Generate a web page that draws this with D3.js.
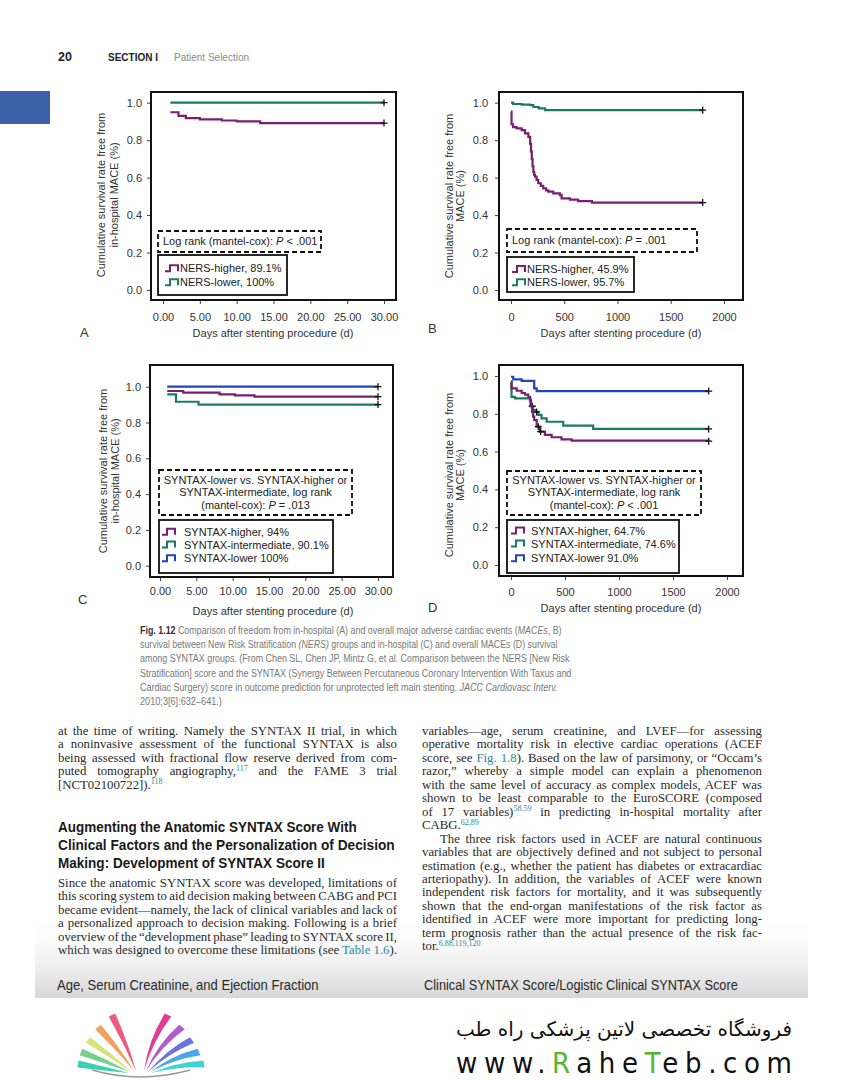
<!DOCTYPE html>
<html>
<head>
<meta charset="utf-8">
<script src="https://cdn.jsdelivr.net/npm/d3@7"></script>
<style>
  body { margin: 0; background: #fff; }
  svg { display: block; }
</style>
</head>
<body>
<script>
// page size
var W = 844, H = 1080;
var sans = '"Liberation Sans", Arial, Helvetica, sans-serif';
var serif = '"Liberation Serif", "Times New Roman", serif';

var purple = '#7a1f6f', green = '#1b7b60', blue = '#2343b8', teal = '#2b8a9c';

// ---- values ----
// A: in-hospital MACE, NERS groups (days)
var aHigherDays = [1, 2.1, 3.1, 5, 8, 10, 13.2, 30];
var aHigherSurv = [0.949, 0.930, 0.918, 0.911, 0.905, 0.900, 0.891, 0.891];
var aLowerDays = [1, 30];
var aLowerSurv = [1.0, 1.0];

// B: overall MACE, NERS groups
var bHigherDays = [0, 5, 20, 53, 100, 131, 163, 180, 188, 195, 202, 210, 218, 225, 240, 256, 280, 303, 330, 350, 397, 459, 475, 553, 631, 760, 1800];
var bHigherSurv = [0.952, 0.885, 0.870, 0.863, 0.854, 0.836, 0.818, 0.780, 0.740, 0.700, 0.660, 0.630, 0.615, 0.605, 0.588, 0.570, 0.556, 0.543, 0.532, 0.525, 0.516, 0.507, 0.489, 0.482, 0.475, 0.467, 0.467];
var bLowerDays = [0, 20, 100, 180, 210, 260, 320, 1800];
var bLowerSurv = [1.0, 0.993, 0.990, 0.987, 0.977, 0.970, 0.960, 0.960];

// C: in-hospital MACE, SYNTAX groups
var cHigherDays = [1, 3.2, 8.2, 10.3, 13, 30];
var cHigherSurv = [0.976, 0.967, 0.957, 0.952, 0.944, 0.944];
var cInterDays = [1, 2.2, 5.3, 30];
var cInterSurv = [0.957, 0.916, 0.900, 0.900];
var cLowerDays = [1, 30];
var cLowerSurv = [1.0, 1.0];

// D: overall MACE, SYNTAX groups
var dHigherDays = [0, 5, 53, 99, 129, 160, 176, 185, 195, 205, 215, 238, 268, 314, 376, 468, 561, 1830];
var dHigherSurv = [0.970, 0.935, 0.922, 0.910, 0.901, 0.889, 0.871, 0.840, 0.810, 0.785, 0.767, 0.732, 0.706, 0.688, 0.676, 0.665, 0.658, 0.655];
var dInterDays = [0, 5, 37, 180, 205, 222, 253, 283, 330, 484, 761, 1830];
var dInterSurv = [0.970, 0.890, 0.882, 0.840, 0.820, 0.810, 0.794, 0.776, 0.758, 0.737, 0.720, 0.720];
var dLowerDays = [0, 21, 99, 215, 238, 1830];
var dLowerSurv = [0.996, 0.982, 0.974, 0.935, 0.920, 0.920];
var dHigherCensor = [253, 274];
var dInterCensor = [197, 237];

// ticks
var shortDayTicks = [0, 5, 10, 15, 20, 25, 30];
var longDayTicks = [0, 500, 1000, 1500, 2000];
var survTicks = [0, 0.2, 0.4, 0.6, 0.8, 1.0];

// legend / annotation texts
var aLabels = ['NERS-higher, 89.1%', 'NERS-lower, 100%'];
var bLabels = ['NERS-higher, 45.9%', 'NERS-lower, 95.7%'];
var cLabels = ['SYNTAX-higher, 94%', 'SYNTAX-intermediate, 90.1%', 'SYNTAX-lower 100%'];
var dLabels = ['SYNTAX-higher, 64.7%', 'SYNTAX-intermediate, 74.6%', 'SYNTAX-lower 91.0%'];
var aLogRank = [[['Log rank (mantel-cox): ', 0], ['P', 1], [' < .001', 0]]];
var bLogRank = [[['Log rank (mantel-cox): ', 0], ['P', 1], [' = .001', 0]]];
var cLogRank = [[['SYNTAX-lower vs. SYNTAX-higher or', 0]], [['SYNTAX-intermediate, log rank', 0]], [['(mantel-cox): ', 0], ['P', 1], [' = .013', 0]]];
var dLogRank = [[['SYNTAX-lower vs. SYNTAX-higher or', 0]], [['SYNTAX-intermediate, log rank', 0]], [['(mantel-cox): ', 0], ['P', 1], [' < .001', 0]]];
var yTitleInHosp = ['Cumulative survival rate free from', 'in-hospital MACE (%)'];
var yTitleOverall = ['Cumulative survival rate free from', 'MACE (%)'];
var xTitle = 'Days after stenting procedure (d)';

var svg = d3.select('body').append('svg')
  .attr('width', W)
  .attr('height', H)
  .style('font-family', sans);

// squeeze a text horizontally so it spans exactly `width` px
function fitWidth(t, x, y, width) {
  var len = t.node().getComputedTextLength();
  t.attr('x', 0).attr('y', 0)
    .attr('transform', 'translate(' + x + ',' + y + ') scale(' + (width / len) + ',1)');
}

// ---- running head ----
svg.append('rect').attr('x', 0).attr('y', 91).attr('width', 50).attr('height', 33).attr('fill', '#3b62a7');
svg.append('text').attr('x', 58).attr('y', 61).attr('font-size', 12.5).attr('font-weight', 'bold').attr('fill', '#222').text('20');
svg.append('text').attr('x', 108).attr('y', 61).attr('font-size', 10).attr('font-weight', 'bold').attr('fill', '#222').text('SECTION I');
svg.append('text').attr('x', 174).attr('y', 61).attr('font-size', 10).attr('fill', '#8a8a8a').text('Patient Selection');

// ---- panel layout ----
var panels = [
  { letter: 'A', letterPos: [80, 337], frame: [151, 92, 396, 300], xDomain: [0, 30], xRange: [163, 384], yRange: [290, 102.7],
    xTicks: shortDayTicks, xFmt: '.2f', xPad: 9, yPad: 5, yTitle: yTitleInHosp, yTitleX: [101, 114], yTitleY: 195, xTitlePos: [273, 337],
    series: [
      { days: aLowerDays, surv: aLowerSurv, color: green },
      { days: aHigherDays, surv: aHigherSurv, color: purple }
    ],
    logRank: aLogRank, lrBox: [158, 231, 321, 252], lrAnchor: 'start', lrX: 163, lrY: [245],
    legendBox: [158, 255, 287, 295], legendRows: [268.3, 282.3], legendSx: 165, legendTx: 180,
    legend: [{ label: aLabels[0], color: purple }, { label: aLabels[1], color: green }] },

  { letter: 'B', letterPos: [428, 333], frame: [499, 92, 743, 300], xDomain: [0, 2000], xRange: [511, 724], yRange: [290, 102.7],
    xTicks: longDayTicks, xFmt: 'd', xPad: 9, yPad: 7, yTitle: yTitleOverall, yTitleX: [449, 460], yTitleY: 196, xTitlePos: [621, 337],
    series: [
      { days: bLowerDays, surv: bLowerSurv, color: green },
      { days: bHigherDays, surv: bHigherSurv, color: purple }
    ],
    logRank: bLogRank, lrBox: [507, 229, 697, 252], lrAnchor: 'start', lrX: 512, lrY: [244],
    legendBox: [507, 257, 634, 292], legendRows: [269, 282.3], legendSx: 512, legendTx: 527,
    legend: [{ label: bLabels[0], color: purple }, { label: bLabels[1], color: green }] },

  { letter: 'C', letterPos: [78, 604], frame: [150, 365, 393, 577], xDomain: [0, 30], xRange: [160, 378], yRange: [565.7, 386.7],
    xTicks: shortDayTicks, xFmt: '.2f', xPad: 6, yPad: 5, yTitle: yTitleInHosp, yTitleX: [103, 115], yTitleY: 471, xTitlePos: [273, 615],
    series: [
      { days: cLowerDays, surv: cLowerSurv, color: blue },
      { days: cInterDays, surv: cInterSurv, color: green },
      { days: cHigherDays, surv: cHigherSurv, color: purple }
    ],
    logRank: cLogRank, lrBox: [159, 470, 352, 515], lrAnchor: 'middle', lrX: 255.5, lrY: [483.5, 496, 509],
    legendBox: [159, 520, 333, 573], legendRows: [531.7, 544.5, 558.3], legendSx: 162, legendTx: 184,
    legend: [{ label: cLabels[0], color: purple }, { label: cLabels[1], color: green }, { label: cLabels[2], color: blue }] },

  { letter: 'D', letterPos: [428, 612], frame: [499, 365, 743, 576], xDomain: [0, 2000], xRange: [511, 727], yRange: [565, 376],
    xTicks: longDayTicks, xFmt: 'd', xPad: 8, yPad: 7, yTitle: yTitleOverall, yTitleX: [449, 460], yTitleY: 475, xTitlePos: [621, 612],
    series: [
      { days: dLowerDays, surv: dLowerSurv, color: blue },
      { days: dInterDays, surv: dInterSurv, color: green, censor: dInterCensor },
      { days: dHigherDays, surv: dHigherSurv, color: purple, censor: dHigherCensor }
    ],
    logRank: dLogRank, lrBox: [507, 471, 701, 515], lrAnchor: 'middle', lrX: 604, lrY: [483.5, 496, 508.5],
    legendBox: [507, 520, 679, 573], legendRows: [530.5, 543.5, 558.3], legendSx: 511, legendTx: 531,
    legend: [{ label: dLabels[0], color: purple }, { label: dLabels[1], color: green }, { label: dLabels[2], color: blue }] }
];

function styleAxis(sel) {
  sel.attr('font-size', 11).attr('font-family', sans);
  sel.select('.domain').remove();
  sel.selectAll('line').attr('stroke', '#444');
  sel.selectAll('text').attr('fill', '#333');
}

function stepValue(days, surv, t) {
  var i = d3.bisectRight(days, t) - 1;
  return surv[Math.max(0, i)];
}

var plus = 'M-3.5,0H3.5M0,-3.5V3.5';

panels.forEach(function(p) {
  var g = svg.append('g');
  var x = d3.scaleLinear().domain(p.xDomain).range(p.xRange);
  var y = d3.scaleLinear().domain([0, 1]).range(p.yRange);
  var f = p.frame;

  g.append('g')
    .attr('transform', 'translate(0,' + f[3] + ')')
    .call(d3.axisBottom(x).tickValues(p.xTicks).tickFormat(d3.format(p.xFmt)).tickSize(4).tickPadding(p.xPad))
    .call(styleAxis);
  g.append('g')
    .attr('transform', 'translate(' + f[0] + ',0)')
    .call(d3.axisLeft(y).tickValues(survTicks).tickFormat(d3.format('.1f')).tickSize(4).tickPadding(p.yPad))
    .call(styleAxis);

  // plot frame
  g.append('rect')
    .attr('x', f[0]).attr('y', f[1])
    .attr('width', f[2] - f[0]).attr('height', f[3] - f[1])
    .attr('fill', 'none').attr('stroke', '#111').attr('stroke-width', 2);

  // axis titles
  p.yTitle.forEach(function(t, i) {
    g.append('text')
      .attr('transform', 'translate(' + p.yTitleX[i] + ',' + p.yTitleY + ') rotate(-90)')
      .attr('text-anchor', 'middle').attr('dy', '0.35em')
      .attr('font-size', 11).attr('fill', '#333')
      .text(t);
  });
  g.append('text')
    .attr('x', p.xTitlePos[0]).attr('y', p.xTitlePos[1])
    .attr('text-anchor', 'middle').attr('font-size', 11).attr('fill', '#333')
    .text(xTitle);
  g.append('text')
    .attr('x', p.letterPos[0]).attr('y', p.letterPos[1])
    .attr('font-size', 13).attr('fill', '#333')
    .text(p.letter);

  // survival curves
  var line = d3.line()
    .curve(d3.curveStepAfter)
    .x(function(d) { return x(d[0]); })
    .y(function(d) { return y(d[1]); });

  p.series.forEach(function(s) {
    g.append('path')
      .datum(d3.zip(s.days, s.surv))
      .attr('d', line)
      .attr('fill', 'none')
      .attr('stroke', s.color)
      .attr('stroke-width', 2.2);
    var marks = (s.censor || []).concat([s.days[s.days.length - 1]]);
    g.selectAll(null).data(marks).enter().append('path')
      .attr('transform', function(t) { return 'translate(' + x(t) + ',' + y(stepValue(s.days, s.surv, t)) + ')'; })
      .attr('d', plus)
      .attr('stroke', '#111').attr('stroke-width', 1.3).attr('fill', 'none');
  });

  // log-rank box
  var lb = p.lrBox;
  g.append('rect')
    .attr('x', lb[0]).attr('y', lb[1]).attr('width', lb[2] - lb[0]).attr('height', lb[3] - lb[1])
    .attr('fill', '#fff').attr('stroke', '#111').attr('stroke-width', 1.8).attr('stroke-dasharray', '5,3');
  p.logRank.forEach(function(segs, i) {
    var t = g.append('text')
      .attr('x', p.lrX).attr('y', p.lrY[i])
      .attr('text-anchor', p.lrAnchor).attr('font-size', 11).attr('fill', '#222');
    segs.forEach(function(s) {
      t.append('tspan').attr('font-style', s[1] ? 'italic' : null).text(s[0]);
    });
  });

  // legend
  var bb = p.legendBox;
  g.append('rect')
    .attr('x', bb[0]).attr('y', bb[1]).attr('width', bb[2] - bb[0]).attr('height', bb[3] - bb[1])
    .attr('fill', '#fff').attr('stroke', '#111').attr('stroke-width', 1.8);
  p.legend.forEach(function(l, i) {
    var cy = p.legendRows[i], sx = p.legendSx;
    g.append('path')
      .attr('d', 'M' + sx + ',' + (cy + 3) + 'H' + (sx + 5) + 'V' + (cy - 3) + 'H' + (sx + 13) + 'V' + (cy + 3))
      .attr('fill', 'none').attr('stroke', l.color).attr('stroke-width', 2);
    g.append('text')
      .attr('x', p.legendTx).attr('y', cy + 4)
      .attr('font-size', 11).attr('fill', '#222')
      .text(l.label);
  });
});

// ---- figure caption ----
var caption = [
  [{ t: 'Fig. 1.12', b: 1 }, ' Comparison of freedom from in-hospital (A) and overall major adverse cardiac events (', { t: 'MACEs', i: 1 }, ', B)'],
  ['survival between New Risk Stratification ', { t: '(NERS)', i: 1 }, ' groups and in-hospital (C) and overall MACEs (D) survival'],
  ['among SYNTAX groups. (From Chen SL, Chen JP, Mintz G, et al. Comparison between the NERS [New Risk'],
  ['Stratification] score and the SYNTAX (Synergy Between Percutaneous Coronary Intervention With Taxus and'],
  ['Cardiac Surgery) score in outcome prediction for unprotected left main stenting. ', { t: 'JACC Cardiovasc Interv.', i: 1 }],
  ['2010;3[6]:632\u2013641.)']
];
var captionEnds = [562, 558, 570, 572, 558, 222];
var captionBase = [634, 648, 662, 676.5, 690.5, 705];

caption.forEach(function(segs, i) {
  var t = svg.append('text')
    .attr('font-size', 10.8).attr('fill', '#777');
  segs.forEach(function(s) {
    if (typeof s === 'string') { t.append('tspan').text(s); return; }
    t.append('tspan')
      .attr('font-weight', s.b ? 'bold' : null)
      .attr('fill', s.b ? '#333' : null)
      .attr('font-style', s.i ? 'italic' : null)
      .text(s.t);
  });
  fitWidth(t, 140, captionBase[i], captionEnds[i] - 140);
});

// ---- body text, two justified columns ----
function sup(t) { return { t: t, sup: 1 }; }
function link(t) { return { t: t, link: 1 }; }

var leftTop = [
  ['at the time of writing. Namely the SYNTAX II trial, in which'],
  ['a noninvasive assessment of the functional SYNTAX is also'],
  ['being assessed with fractional flow reserve derived from com-'],
  ['puted tomography angiography,', sup('117'), ' and the FAME 3 trial'],
  ['[NCT02100722]).', sup('118')]
];
var heading = [
  'Augmenting the Anatomic SYNTAX Score With',
  'Clinical Factors and the Personalization of Decision',
  'Making: Development of SYNTAX Score II'
];
var headingEnds = [357, 395, 325];
var leftBottom = [
  ['Since the anatomic SYNTAX score was developed, limitations of'],
  ['this scoring system to aid decision making between CABG and PCI'],
  ['became evident\u2014namely, the lack of clinical variables and lack of'],
  ['a personalized approach to decision making. Following is a brief'],
  ['overview of the \u201cdevelopment phase\u201d leading to SYNTAX score II,'],
  ['which was designed to overcome these limitations (see ', link('Table 1.6'), ').']
];
var rightCol = [
  ['variables\u2014age, serum creatinine, and LVEF\u2014for assessing'],
  ['operative mortality risk in elective cardiac operations (ACEF'],
  ['score, see ', link('Fig. 1.8'), '). Based on the law of parsimony, or \u201cOccam\u2019s'],
  ['razor,\u201d whereby a simple model can explain a phenomenon'],
  ['with the same level of accuracy as complex models, ACEF was'],
  ['shown to be least comparable to the EuroSCORE (composed'],
  ['of 17 variables)', sup('58,59'), ' in predicting in-hospital mortality after'],
  ['CABG.', sup('62,89')],
  ['The three risk factors used in ACEF are natural continuous'],
  ['variables that are objectively defined and not subject to personal'],
  ['estimation (e.g., whether the patient has diabetes or extracardiac'],
  ['arteriopathy). In addition, the variables of ACEF were known'],
  ['independent risk factors for mortality, and it was subsequently'],
  ['shown that the end-organ manifestations of the risk factor as'],
  ['identified in ACEF were more important for predicting long-'],
  ['term prognosis rather than the actual presence of the risk fac-'],
  ['tor.', sup('6,88,119,120')]
];
var lastLines = { leftTop: [4], leftBottom: [5], right: [7, 16] };

function bodyLine(x, y, width, segs, justify) {
  var t = svg.append('text')
    .attr('x', x).attr('y', y)
    .attr('font-family', serif).attr('font-size', 12.8).attr('fill', '#2a2a2a');
  var shift = 0, full = '';
  segs.forEach(function(s) {
    var span = t.append('tspan');
    if (typeof s === 'string') {
      span.text(s);
      if (shift) { span.attr('dy', shift); shift = 0; }
      full += s;
    } else if (s.sup) {
      span.attr('dy', -4.5).attr('font-size', 8).attr('fill', teal).text(s.t);
      shift = 4.5;
    } else {
      span.attr('fill', teal).text(s.t);
      full += s.t;
    }
  });
  if (justify) {
    var len = t.node().getComputedTextLength();
    var gaps = (full.match(/ /g) || []).length;
    if (gaps > 0) t.attr('word-spacing', (width - len) / gaps);
  }
}

var lh = 13.45;
leftTop.forEach(function(segs, i) {
  bodyLine(58, 735 + i * lh, 339, segs, lastLines.leftTop.indexOf(i) < 0);
});
heading.forEach(function(h, i) {
  var t = svg.append('text')
    .attr('font-size', 15.5).attr('font-weight', 'bold').attr('fill', '#1a1a1a')
    .text(h);
  fitWidth(t, 58, 831.7 + i * 18.3, headingEnds[i] - 58);
});
leftBottom.forEach(function(segs, i) {
  bodyLine(58, 886.7 + i * lh, 339, segs, lastLines.leftBottom.indexOf(i) < 0);
});
rightCol.forEach(function(segs, i) {
  var indent = i === 8 ? 18 : 0;
  bodyLine(422 + indent, 735 + i * lh, 340 - indent, segs, lastLines.right.indexOf(i) < 0);
});

// ---- page foot: shaded band and running heads ----
var defs = svg.append('defs');
var grad = defs.append('linearGradient').attr('id', 'foot').attr('x1', 0).attr('y1', 0).attr('x2', 0).attr('y2', 1);
grad.append('stop').attr('offset', 0).attr('stop-color', '#fff').attr('stop-opacity', 0);
grad.append('stop').attr('offset', 1).attr('stop-color', '#d6d6d6');
svg.insert('rect', ':first-child')
  .attr('x', 35).attr('y', 912).attr('width', 773).attr('height', 86)
  .attr('fill', 'url(#foot)');

var footL = svg.append('text')
  .attr('font-size', 14).attr('fill', '#2a2a2a')
  .text('Age, Serum Creatinine, and Ejection Fraction');
fitWidth(footL, 57, 990, 262);
var footR = svg.append('text')
  .attr('font-size', 14).attr('fill', '#2a2a2a')
  .text('Clinical SYNTAX Score/Logistic Clinical SYNTAX Score');
fitWidth(footR, 424, 990, 314);

// ---- shop watermark: book logo, persian line, url ----
function petal(bx, by, tx, ty, w, bend) {
  var dx = tx - bx, dy = ty - by, L = Math.hypot(dx, dy), nx = -dy / L, ny = dx / L;
  var mx = (bx + tx) / 2 + nx * bend, my = (by + ty) / 2 + ny * bend;
  return 'M' + bx + ',' + by +
    'Q' + mx + ',' + my + ' ' + (tx + nx * w / 2) + ',' + (ty + ny * w / 2) +
    'L' + (tx - nx * w / 2) + ',' + (ty - ny * w / 2) +
    'Q' + (mx - nx * w * 0.6) + ',' + (my - ny * w * 0.6) + ' ' + bx + ',' + by + 'Z';
}
var petals = [
  [136, 1071, 112, 1015, '#ee5a7e', 4], [134, 1071, 98, 1027, '#f4a05c', 4], [132, 1072, 88, 1040, '#d6e27a', 3],
  [130, 1072, 81, 1052, '#74d28c', 3], [129, 1073, 78, 1064, '#3ccfb2', 2],
  [144, 1071, 168, 1015, '#e23c94', -4], [146, 1071, 182, 1027, '#b25ccc', -4], [148, 1072, 192, 1040, '#6c72df', -3],
  [150, 1072, 199, 1052, '#4aa6ea', -3], [151, 1073, 204, 1064, '#3fd3d6', -2]
];
var logo = svg.append('g');
petals.forEach(function(q) {
  logo.append('path').attr('d', petal(q[0], q[1], q[2], q[3], 7, q[5])).attr('fill', q[4]);
});
logo.append('path')
  .attr('d', 'M92,1070 Q140,1084 190,1070')
  .attr('fill', 'none').attr('stroke', '#9a9a9a').attr('stroke-width', 1.5);

svg.append('text')
  .attr('x', 792).attr('y', 1036)
  .attr('text-anchor', 'end')
  .attr('font-family', '"DejaVu Sans", "Noto Sans", sans-serif')
  .attr('font-size', 20).attr('fill', '#111')
  .attr('textLength', 336).attr('lengthAdjust', 'spacingAndGlyphs')
  .text('\u0641\u0631\u0648\u0634\u06AF\u0627\u0647 \u062A\u062E\u0635\u0635\u06CC \u0644\u0627\u062A\u06CC\u0646 \u067E\u0632\u0634\u06A9\u06CC  \u0631\u0627\u0647 \u0637\u0628');

var url = svg.append('text')
  .attr('x', 456).attr('y', 1073)
  .attr('font-family', '"DejaVu Sans Condensed", "Liberation Sans Narrow", sans-serif')
  .attr('font-size', 29).attr('fill', '#111');
url.append('tspan').text('www.');
url.append('tspan').attr('fill', '#56b52b').text('R');
url.append('tspan').text('ahe');
url.append('tspan').attr('fill', '#56b52b').text('T');
url.append('tspan').text('eb.com');
// spread the letters over the same span as the reference
var urlLen = url.node().getComputedTextLength();
url.attr('letter-spacing', (336 - urlLen) / 14);
</script>
</body>
</html>
